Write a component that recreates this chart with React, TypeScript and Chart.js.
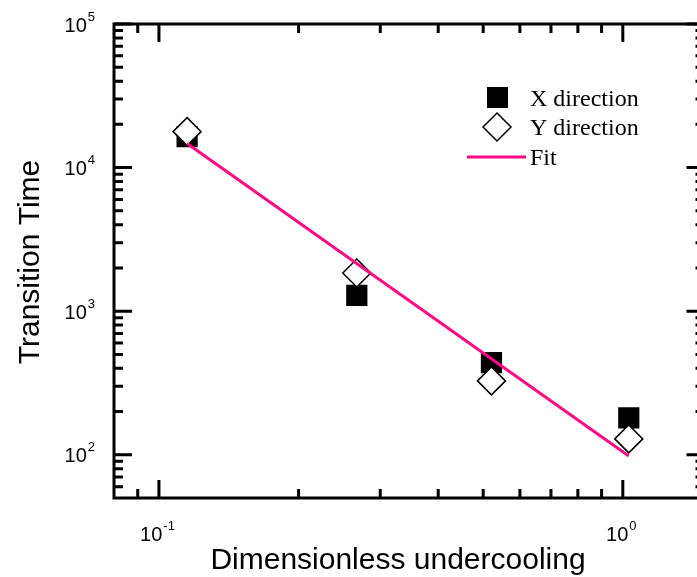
import React, { useEffect, useRef } from 'react';
import { Chart, registerables } from 'chart.js';

Chart.register(...registerables);

// ---- data ----
const undercooling = [0.115, 0.267, 0.521, 1.03];
const xDirectionTime = [16400, 1290, 438, 181];
const yDirectionTime = [17800, 1845, 327, 129];
const fitUndercooling = [0.115, 1.03];
const fitTime = [14700, 98];

const xMin = 0.08;
const xMax = 1.5;
const yMin = 50;
const yMax = 100000;

const xMajorTicks = [0.1, 1];
const xMajorExponents = ['-1', '0'];
const xMinorTicks = [0.09, 0.2, 0.3, 0.4, 0.5, 0.6, 0.7, 0.8, 0.9];
const yMajorTicks = [100, 1000, 10000, 100000];
const yMajorExponents = ['2', '3', '4', '5'];
const yMinorTicks = [
  60, 70, 80, 90,
  200, 300, 400, 500, 600, 700, 800, 900,
  2000, 3000, 4000, 5000, 6000, 7000, 8000, 9000,
  20000, 30000, 40000, 50000, 60000, 70000, 80000, 90000,
];
const legendLabels = ['X direction', 'Y direction', 'Fit'];
const xTitle = 'Dimensionless undercooling';
const yTitle = 'Transition Time';

const FIT_COLOR = '#FF0A84';
const SANS = '"Liberation Sans", Arial, sans-serif';
const SERIF = '"Liberation Serif", "Times New Roman", serif';

const decorPlugin = {
  id: 'decor',
  afterDraw(chart: any) {
    const ctx = chart.ctx as CanvasRenderingContext2D;
    const xs = chart.scales.x;
    const ys = chart.scales.y;
    const { left, right, top, bottom } = chart.chartArea;
    ctx.save();
    ctx.strokeStyle = '#000';
    ctx.fillStyle = '#000';
    ctx.lineWidth = 3;
    ctx.lineCap = 'butt';
    // frame
    ctx.strokeRect(left, top, right - left, bottom - top);
    const MAJ = 18;
    const MIN = 9;
    // x ticks (bottom and top, inward)
    const xt = (v: number, len: number) => {
      const px = xs.getPixelForValue(v);
      ctx.beginPath();
      ctx.moveTo(px, bottom);
      ctx.lineTo(px, bottom - len);
      ctx.moveTo(px, top);
      ctx.lineTo(px, top + len);
      ctx.stroke();
    };
    xMajorTicks.forEach((v) => xt(v, MAJ));
    xMinorTicks.forEach((v) => xt(v, MIN));
    const yt = (v: number, len: number) => {
      const py = ys.getPixelForValue(v);
      ctx.beginPath();
      ctx.moveTo(left, py);
      ctx.lineTo(left + len, py);
      ctx.moveTo(right, py);
      ctx.lineTo(right - len, py);
      ctx.stroke();
    };
    yMajorTicks.forEach((v) => yt(v, MAJ));
    yMinorTicks.forEach((v) => yt(v, MIN));

    // tick labels with superscripts
    const baseFont = `20px ${SANS}`;
    const supFont = `13px ${SANS}`;
    ctx.textBaseline = 'middle';
    ctx.textAlign = 'left';
    yMajorTicks.forEach((v, i) => {
      const py = ys.getPixelForValue(v);
      ctx.font = baseFont;
      const w1 = ctx.measureText('10').width;
      ctx.font = supFont;
      const w2 = ctx.measureText(yMajorExponents[i]).width;
      const x0 = 94 - w1 - w2;
      ctx.font = baseFont;
      ctx.fillText('10', x0, py + 2);
      ctx.font = supFont;
      ctx.fillText(yMajorExponents[i], x0 + w1 + 1, py - 7);
    });
    xMajorTicks.forEach((v, i) => {
      const px = xs.getPixelForValue(v);
      ctx.font = baseFont;
      const w1 = ctx.measureText('10').width;
      ctx.font = supFont;
      const w2 = ctx.measureText(xMajorExponents[i]).width;
      const x0 = px - (w1 + w2) / 2 - 2;
      ctx.font = baseFont;
      ctx.fillText('10', x0, 535);
      ctx.font = supFont;
      ctx.fillText(xMajorExponents[i], x0 + w1 + 1, 526);
    });

    // axis titles
    ctx.font = `30px ${SANS}`;
    ctx.textAlign = 'center';
    ctx.textBaseline = 'alphabetic';
    ctx.fillText(xTitle, 398, 569);
    ctx.save();
    ctx.translate(39, 262);
    ctx.rotate(-Math.PI / 2);
    ctx.fillText(yTitle, 0, 0);
    ctx.restore();

    // legend
    ctx.fillStyle = '#000';
    ctx.fillRect(487, 87, 21, 21);
    ctx.beginPath();
    ctx.moveTo(497, 113);
    ctx.lineTo(511, 127);
    ctx.lineTo(497, 141);
    ctx.lineTo(483, 127);
    ctx.closePath();
    ctx.fillStyle = '#fff';
    ctx.fill();
    ctx.lineWidth = 1.5;
    ctx.strokeStyle = '#000';
    ctx.stroke();
    ctx.beginPath();
    ctx.lineWidth = 3;
    ctx.strokeStyle = FIT_COLOR;
    ctx.moveTo(467, 157);
    ctx.lineTo(526, 157);
    ctx.stroke();
    ctx.fillStyle = '#000';
    ctx.font = `24px ${SERIF}`;
    ctx.textAlign = 'left';
    ctx.fillText(legendLabels[0], 530, 106);
    ctx.fillText(legendLabels[1], 530, 135);
    ctx.fillText(legendLabels[2], 530, 165);
    ctx.restore();
  },
};

export default function App() {
  const ref = useRef<HTMLCanvasElement | null>(null);
  useEffect(() => {
    document.body.style.margin = '0';
    const canvas = ref.current;
    if (!canvas) return;
    const chart = new Chart(canvas, {
      type: 'scatter',
      data: {
        datasets: [
          {
            type: 'line',
            label: legendLabels[2],
            data: fitUndercooling.map((x, i) => ({ x, y: fitTime[i] })),
            borderColor: FIT_COLOR,
            borderWidth: 3,
            pointRadius: 0,
            fill: false,
            order: 0,
          } as any,
          {
            label: legendLabels[1],
            data: undercooling.map((x, i) => ({ x, y: yDirectionTime[i] })),
            pointStyle: 'rectRot',
            pointRadius: 14,
            backgroundColor: '#fff',
            borderColor: '#000',
            borderWidth: 1.5,
            order: 1,
          },
          {
            label: legendLabels[0],
            data: undercooling.map((x, i) => ({ x, y: xDirectionTime[i] })),
            pointStyle: 'rect',
            pointRadius: 15,
            backgroundColor: '#000',
            borderColor: '#000',
            borderWidth: 0,
            order: 2,
          },
        ],
      },
      options: {
        responsive: false,
        animation: false,
        devicePixelRatio: 1,
        layout: { padding: { left: 114, top: 24, right: 15, bottom: 79 } },
        plugins: { legend: { display: false }, tooltip: { enabled: false } },
        scales: {
          x: { type: 'logarithmic', min: xMin, max: xMax, display: false },
          y: { type: 'logarithmic', min: yMin, max: yMax, display: false },
        },
      },
      plugins: [decorPlugin],
    });
    return () => chart.destroy();
  }, []);
  return (
    <div style={{ width: 697, height: 577, overflow: 'hidden', position: 'relative', background: '#fff' }}>
      <canvas ref={ref} width={720} height={577} style={{ display: 'block' }} />
    </div>
  );
}
